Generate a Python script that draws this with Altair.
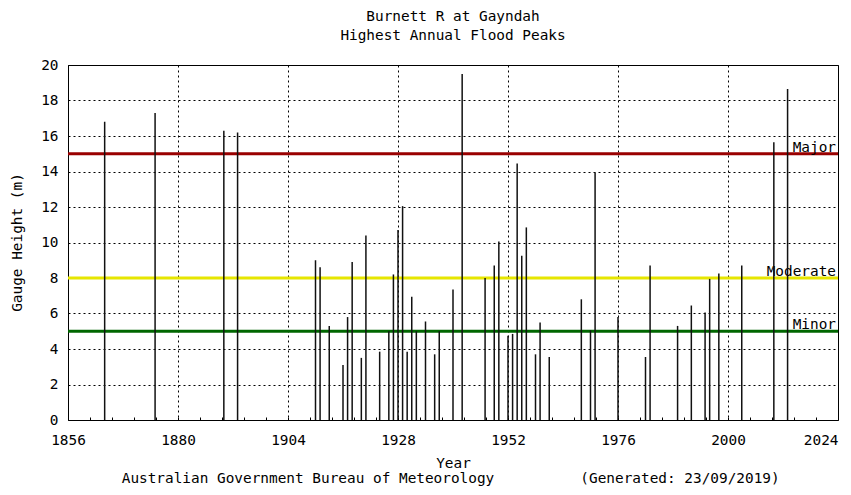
import altair as alt
import pandas as pd

FONT = "DejaVu Sans Mono"
FS = 14.4

years = [1864, 1875, 1890, 1893, 1910, 1911, 1913, 1916, 1917, 1918,
         1920, 1921, 1924, 1926, 1927, 1928, 1929, 1930, 1931, 1932,
         1934, 1936, 1937, 1940, 1942, 1947, 1949, 1950, 1952, 1953,
         1954, 1955, 1956, 1958, 1959, 1961, 1968, 1970, 1971, 1976,
         1982, 1983, 1989, 1992, 1995, 1996, 1998, 2003, 2010, 2013]
peaks = [16.8, 17.3, 16.3, 16.2, 9.0, 8.6, 5.3, 3.1, 5.8, 8.9,
         3.5, 10.4, 3.85, 5.0, 8.2, 10.7, 12.05, 3.85, 6.95, 5.0,
         5.55, 3.7, 5.0, 7.35, 19.5, 8.0, 8.7, 10.05, 4.75, 4.85,
         14.45, 9.25, 10.85, 3.7, 5.5, 3.55, 6.8, 5.05, 13.95, 5.8,
         3.55, 8.7, 5.3, 6.45, 6.05, 7.95, 8.25, 8.7, 15.65, 18.65]

levels = ["Major", "Moderate", "Minor"]
level_heights = [15, 8, 5]
level_colors = ["#990000", "#e6e600", "#006600"]

x_major_ticks = [1856, 1880, 1904, 1928, 1952, 1976, 2000, 2024]
x_minor_ticks = [1860.8, 1865.6, 1870.4, 1875.2, 1884.8, 1889.6, 1894.4, 1899.2,
                 1908.8, 1913.6, 1918.4, 1923.2, 1932.8, 1937.6, 1942.4, 1947.2,
                 1956.8, 1961.6, 1966.4, 1971.2, 1980.8, 1985.6, 1990.4, 1995.2,
                 2004.8, 2009.6, 2014.4, 2019.2]
y_ticks = [0, 2, 4, 6, 8, 10, 12, 14, 16, 18, 20]

title_lines = ["Burnett R at Gayndah", "Highest Annual Flood Peaks"]
footer_left = "Australian Government Bureau of Meteorology"
footer_right = "(Generated: 23/09/2019)"

peaks_df = pd.DataFrame({"year": years, "peak": peaks})
levels_df = pd.DataFrame({"level": levels, "height": level_heights})

major_list = "[" + ",".join(str(v) for v in x_major_ticks) + "]"
is_major = f"indexof({major_list}, datum.value) >= 0"
last_major = x_major_ticks[-1]

x_scale = alt.Scale(domain=[1856, 2024], nice=False, zero=False)
y_scale = alt.Scale(domain=[0, 20], nice=False)

x_axis = alt.Axis(
    values=x_major_ticks + x_minor_ticks,
    format="d",
    labelExpr=f"{is_major} ? format(datum.value, 'd') : ''",
    labelFlush=False,
    labelOverlap=False,
    labelPadding=13,
    labelBound=False,
    labelAlign={"condition": {"test": f"datum.value == {last_major}", "value": "right"}, "value": "center"},
    domain=False,
    ticks=True,
    tickSize=3,
    tickColor="black",
    tickWidth=1,
    offset=-3,
    grid=True,
    gridColor="black",
    gridDash=[2, 3],
    gridWidth=1,
    gridOpacity={"condition": {"test": is_major, "value": 1}, "value": 0},
    title="Year",
    titleX=385,
    titleY=46,
    titleBaseline="middle",
    titleAlign="center",
)

y_axis = alt.Axis(
    values=y_ticks,
    format="d",
    labelFlush=False,
    labelOverlap=False,
    labelPadding=10,
    domain=False,
    ticks=False,
    grid=True,
    gridColor="black",
    gridDash=[2, 3],
    gridWidth=1,
    title="Gauge Height (m)",
    titleAngle=270,
    titleX=-51,
    titleY=177,
    titleBaseline="middle",
    titleAlign="center",
)

bars = alt.Chart(peaks_df).mark_rule(color="#111111", strokeWidth=1.5).encode(
    x=alt.X("year:Q", scale=x_scale, axis=x_axis),
    y=alt.Y("peak:Q", scale=y_scale, axis=y_axis),
    y2=alt.datum(0),
)

thresholds = alt.Chart(levels_df).mark_rule(strokeWidth=3).encode(
    y=alt.Y("height:Q", scale=y_scale, axis=y_axis),
    color=alt.Color("level:N", scale=alt.Scale(domain=levels, range=level_colors), legend=None),
)

threshold_labels = alt.Chart(levels_df).mark_text(
    align="right", baseline="alphabetic", dy=-2, font=FONT, fontSize=FS, color="black"
).encode(
    x=alt.value(768),
    y=alt.Y("height:Q", scale=y_scale, axis=y_axis),
    text="level:N",
)

footer_l = alt.Chart(pd.DataFrame({"t": [footer_left]})).mark_text(
    align="center", baseline="middle", font=FONT, fontSize=FS, color="black"
).encode(x=alt.value(240), y=alt.value(414), text="t:N")

footer_r = alt.Chart(pd.DataFrame({"t": [footer_right]})).mark_text(
    align="center", baseline="middle", font=FONT, fontSize=FS, color="black"
).encode(x=alt.value(612), y=alt.value(414), text="t:N")

chart = alt.layer(thresholds, threshold_labels, bars, footer_l, footer_r).properties(
    width=770,
    height=355,
    autosize=alt.AutoSizeParams(type="none"),
    padding={"left": 60, "top": 57, "right": 5, "bottom": 67},
    title=alt.TitleParams(
        text=title_lines,
        font=FONT,
        fontSize=FS,
        fontWeight="normal",
        color="black",
        lineHeight=19,
        anchor="middle",
        offset=14,
    ),
).configure_view(
    stroke="black", strokeWidth=1
).configure_axis(
    labelFont=FONT, labelFontSize=FS, labelColor="black",
    titleFont=FONT, titleFontSize=FS, titleFontWeight="normal", titleColor="black",
)

chart.save("out.html", embed_options={"renderer": "svg", "actions": False})
